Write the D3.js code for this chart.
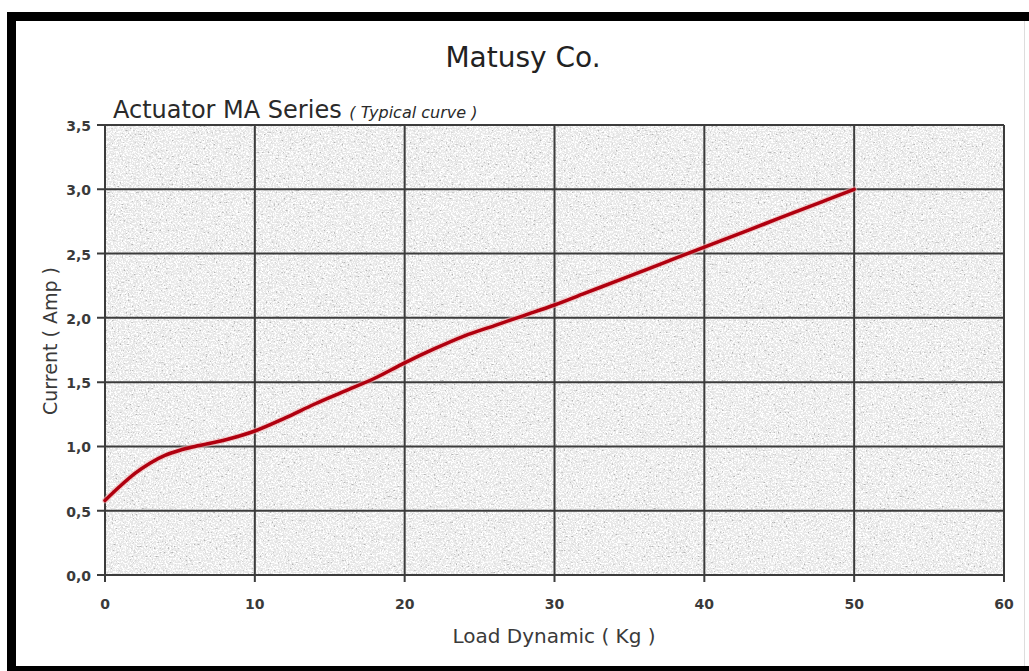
<!DOCTYPE html>
<html>
<head>
<meta charset="utf-8">
<script src="https://cdn.jsdelivr.net/npm/d3@7"></script>
<style>
  html, body { margin: 0; padding: 0; background: #fff; }
  svg { display: block; }
  text { font-family: "DejaVu Sans", Verdana, sans-serif; }
</style>
</head>
<body>
<svg id="chart" width="1029" height="671"></svg>
<script>
// ---- data ----
const loadKg = [0, 1, 2, 3, 4, 5, 6, 8, 10, 12, 14, 16, 18, 20, 22, 24, 26, 28, 30, 32, 34, 36, 38, 40, 42, 44, 46, 48, 50];
const currentAmp = [0.58, 0.69, 0.79, 0.87, 0.93, 0.97, 1.00, 1.05, 1.12, 1.22, 1.33, 1.43, 1.53, 1.65, 1.76, 1.86, 1.94, 2.02, 2.10, 2.19, 2.28, 2.37, 2.46, 2.55, 2.64, 2.73, 2.82, 2.91, 3.00];
const xTicks = [0, 10, 20, 30, 40, 50, 60];
const yTicks = [0, 0.5, 1.0, 1.5, 2.0, 2.5, 3.0, 3.5];
const yTickLabels = ["0,0", "0,5", "1,0", "1,5", "2,0", "2,5", "3,0", "3,5"];
const titleText = "Matusy Co.";
const subtitleText = "Actuator MA Series";
const subtitleNote = "( Typical curve )";
const xTitle = "Load Dynamic ( Kg )";
const yTitle = "Current ( Amp )";

const svg = d3.select("#chart");
const W = 1029, H = 671;
const m = { left: 105, right: 1004, top: 125, bottom: 575 };

// frame
svg.append("rect").attr("x", 7).attr("y", 12).attr("width", W - 7).attr("height", 9).attr("fill", "#000");
svg.append("rect").attr("x", 7).attr("y", 12).attr("width", 9).attr("height", H - 12).attr("fill", "#000");
svg.append("rect").attr("x", 7).attr("y", 666).attr("width", W - 7).attr("height", 5).attr("fill", "#000");
svg.append("rect").attr("x", 1024).attr("y", 21).attr("width", 1).attr("height", 645).attr("fill", "#ddd");

const x = d3.scaleLinear().domain([0, 60]).range([m.left, m.right]);
const y = d3.scaleLinear().domain([0, 3.5]).range([m.bottom, m.top]);

// texture filters
const defs = svg.append("defs");
const fDark = defs.append("filter").attr("id", "specDark").attr("x", 0).attr("y", 0).attr("width", 1).attr("height", 1);
fDark.append("feTurbulence").attr("type", "fractalNoise").attr("baseFrequency", 0.5).attr("numOctaves", 2).attr("seed", 7);
fDark.append("feColorMatrix").attr("type", "matrix")
  .attr("values", "0 0 0 0 0.45  0 0 0 0 0.45  0 0 0 0 0.45  -10 0 0 0 3.3");
const fLight = defs.append("filter").attr("id", "specLight").attr("x", 0).attr("y", 0).attr("width", 1).attr("height", 1);
fLight.append("feTurbulence").attr("type", "fractalNoise").attr("baseFrequency", 0.6).attr("numOctaves", 2).attr("seed", 21);
fLight.append("feColorMatrix").attr("type", "matrix")
  .attr("values", "0 0 0 0 1  0 0 0 0 1  0 0 0 0 1  6 0 0 0 -2.7");

const pw = m.right - m.left, ph = m.bottom - m.top;
svg.append("rect").attr("x", m.left).attr("y", m.top).attr("width", pw).attr("height", ph).attr("fill", "#e6e6e6");
svg.append("rect").attr("x", m.left).attr("y", m.top).attr("width", pw).attr("height", ph).attr("fill", "#fff").attr("filter", "url(#specLight)");
svg.append("rect").attr("x", m.left).attr("y", m.top).attr("width", pw).attr("height", ph).attr("fill", "#fff").attr("filter", "url(#specDark)");

// grid
const grid = svg.append("g").attr("stroke", "#3c3c3c").attr("stroke-width", 2);
grid.selectAll("line.v").data(xTicks).join("line")
  .attr("x1", d => x(d)).attr("x2", d => x(d)).attr("y1", m.top).attr("y2", m.bottom + 7);
grid.selectAll("line.h").data(yTicks).join("line")
  .attr("x1", m.left - 8).attr("x2", m.right).attr("y1", d => y(d)).attr("y2", d => y(d));

// tick labels
const labelColor = "#3a3a3a";
svg.append("g").selectAll("text").data(yTicks).join("text")
  .attr("x", 91).attr("y", d => y(d) + 6)
  .attr("text-anchor", "end").attr("font-size", 14).attr("font-weight", "bold").attr("fill", labelColor)
  .text((d, i) => yTickLabels[i]);
svg.append("g").selectAll("text").data(xTicks).join("text")
  .attr("x", d => x(d)).attr("y", 609)
  .attr("text-anchor", "middle").attr("font-size", 14).attr("font-weight", "bold").attr("fill", labelColor)
  .text(d => d);

// curve
const line = d3.line().x((d, i) => x(loadKg[i])).y(d => y(d)).curve(d3.curveMonotoneX);
svg.append("path").datum(currentAmp).attr("d", line)
  .attr("fill", "none").attr("stroke", "#f4b8b8").attr("stroke-width", 6).attr("stroke-linecap", "round").attr("opacity", 0.6);
svg.append("path").datum(currentAmp).attr("d", line)
  .attr("fill", "none").attr("stroke", "#b0000f").attr("stroke-width", 3.5).attr("stroke-linecap", "round");

// titles
svg.append("text").attr("x", 523).attr("y", 67).attr("text-anchor", "middle")
  .attr("font-size", 28).attr("fill", "#222").text(titleText);
const st = svg.append("text").attr("x", 113).attr("y", 118).attr("fill", "#2a2a2a");
st.append("tspan").attr("font-size", 24).text(subtitleText + " ");
st.append("tspan").attr("font-size", 16).attr("font-style", "italic").text(subtitleNote);

svg.append("text").attr("x", 554).attr("y", 643).attr("text-anchor", "middle")
  .attr("font-size", 20).attr("fill", "#3a3a3a").text(xTitle);
svg.append("text").attr("transform", "translate(57,341) rotate(-90)").attr("text-anchor", "middle")
  .attr("font-size", 19).attr("fill", "#3a3a3a").text(yTitle);
</script>
</body>
</html>
